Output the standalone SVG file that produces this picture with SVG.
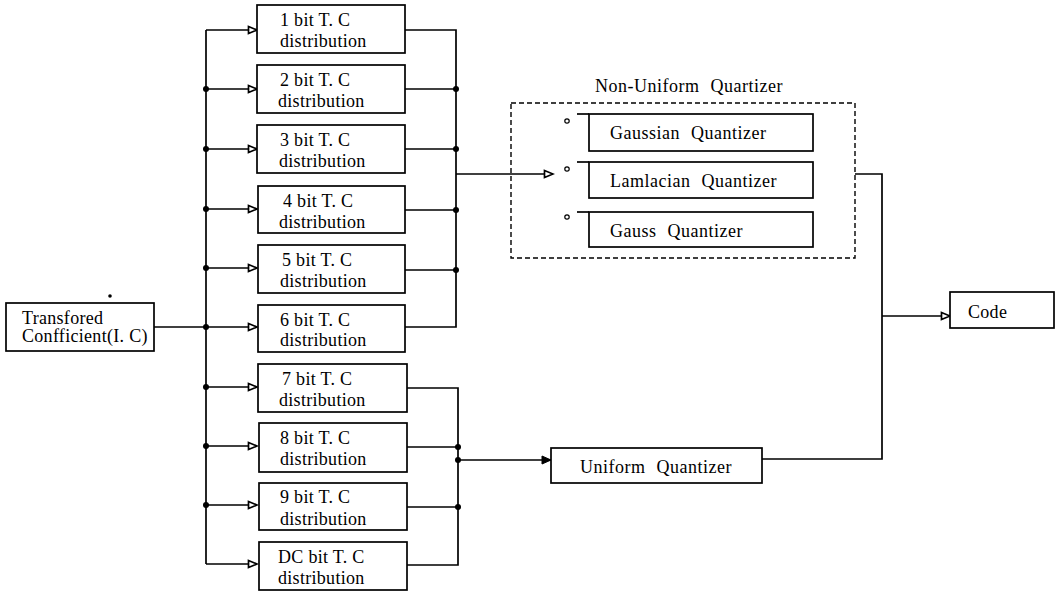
<svg xmlns="http://www.w3.org/2000/svg" width="1057" height="592" viewBox="0 0 1057 592">
<style>
  .box { fill: #fff; stroke: #000; stroke-width: 1.7; }
  .ln { fill: none; stroke: #000; stroke-width: 1.7; }
  .dash { fill: none; stroke: #000; stroke-width: 1.4; stroke-dasharray: 5 3; }
  .t { font-family: "Liberation Serif", "Times New Roman", serif; font-size: 18px; letter-spacing: 0.3px; fill: #000; }
  .q { word-spacing: 6px; letter-spacing: 0.5px; }
  .dot { fill: #000; }
</style>
<defs>
  <marker id="open" markerWidth="12" markerHeight="12" refX="10" refY="5" orient="auto" markerUnits="userSpaceOnUse">
    <path d="M1.5,1.5 L10,5 L1.5,8.5 Z" fill="#fff" stroke="#000" stroke-width="1.7"/>
  </marker>
  <marker id="solid" markerWidth="12" markerHeight="12" refX="10" refY="5" orient="auto" markerUnits="userSpaceOnUse">
    <path d="M1,1 L10,5 L1,9 Z" fill="#000" stroke="#000" stroke-width="1"/>
  </marker>
</defs>

<g id="connectors">
  <!-- input to left bus -->
  <line class="ln" x1="154" y1="327" x2="206" y2="327"/>
  <line class="ln" x1="206" y1="30" x2="206" y2="564"/>
  <line class="ln" x1="206" y1="30" x2="257" y2="30" marker-end="url(#open)"/>
  <line class="ln" x1="206" y1="89" x2="257" y2="89" marker-end="url(#open)"/>
  <line class="ln" x1="206" y1="149" x2="257" y2="149" marker-end="url(#open)"/>
  <line class="ln" x1="206" y1="209" x2="257" y2="209" marker-end="url(#open)"/>
  <line class="ln" x1="206" y1="268" x2="257" y2="268" marker-end="url(#open)"/>
  <line class="ln" x1="206" y1="327" x2="257" y2="327" marker-end="url(#open)"/>
  <line class="ln" x1="206" y1="387" x2="257" y2="387" marker-end="url(#open)"/>
  <line class="ln" x1="206" y1="446" x2="257" y2="446" marker-end="url(#open)"/>
  <line class="ln" x1="206" y1="505" x2="257" y2="505" marker-end="url(#open)"/>
  <line class="ln" x1="206" y1="564" x2="257" y2="564" marker-end="url(#open)"/>
  <circle class="dot" cx="206" cy="89" r="3"/>
  <circle class="dot" cx="206" cy="149" r="3"/>
  <circle class="dot" cx="206" cy="209" r="3"/>
  <circle class="dot" cx="206" cy="268" r="3"/>
  <circle class="dot" cx="206" cy="327" r="3"/>
  <circle class="dot" cx="206" cy="387" r="3"/>
  <circle class="dot" cx="206" cy="446" r="3"/>
  <circle class="dot" cx="206" cy="505" r="3"/>

  <!-- group 1 outputs -->
  <polyline class="ln" points="405,30 456,30 456,327 405,327"/>
  <line class="ln" x1="405" y1="89" x2="456" y2="89"/>
  <line class="ln" x1="405" y1="149" x2="456" y2="149"/>
  <line class="ln" x1="405" y1="210" x2="456" y2="210"/>
  <line class="ln" x1="405" y1="270" x2="456" y2="270"/>
  <circle class="dot" cx="456" cy="89" r="3"/>
  <circle class="dot" cx="456" cy="149" r="3"/>
  <circle class="dot" cx="456" cy="210" r="3"/>
  <circle class="dot" cx="456" cy="270" r="3"/>
  <line class="ln" x1="456" y1="174" x2="553" y2="174" marker-end="url(#open)"/>

  <!-- group 2 outputs -->
  <polyline class="ln" points="407,388 458,388 458,565 407,565"/>
  <line class="ln" x1="407" y1="447" x2="458" y2="447"/>
  <line class="ln" x1="407" y1="507" x2="458" y2="507"/>
  <circle class="dot" cx="458" cy="447" r="3"/>
  <circle class="dot" cx="458" cy="460" r="3"/>
  <circle class="dot" cx="458" cy="507" r="3"/>
  <line class="ln" x1="458" y1="460" x2="551" y2="460" marker-end="url(#solid)"/>

  <!-- merge to code -->
  <polyline class="ln" points="855,174 882,174 882,459 762,459"/>
  <line class="ln" x1="882" y1="316" x2="950" y2="316" marker-end="url(#open)"/>

  <!-- switch contacts -->
  <circle cx="567" cy="121" r="2.2" fill="#fff" stroke="#000" stroke-width="1.2"/>
  <circle cx="567" cy="169" r="2.2" fill="#fff" stroke="#000" stroke-width="1.2"/>
  <circle cx="567" cy="217" r="2.2" fill="#fff" stroke="#000" stroke-width="1.2"/>
  <circle class="dot" cx="110" cy="296" r="1.8"/>
</g>

<g id="input">
  <rect class="box" x="6" y="303" width="148" height="48"/>
  <text class="t" x="22" y="324">Transfored</text>
  <text class="t" x="22" y="342">Confficient(I. C)</text>
</g>

<g id="d1"><rect class="box" x="257" y="5" width="148" height="48"/><text class="t" x="280" y="26">1 bit T. C</text><text class="t" x="280" y="47">distribution</text></g>
<g id="d2"><rect class="box" x="257" y="65" width="148" height="48"/><text class="t" x="280" y="86">2 bit T. C</text><text class="t" x="278" y="107">distribution</text></g>
<g id="d3"><rect class="box" x="257" y="125" width="148" height="48"/><text class="t" x="280" y="146">3 bit T. C</text><text class="t" x="279" y="167">distribution</text></g>
<g id="d4"><rect class="box" x="258" y="186" width="147" height="47"/><text class="t" x="283" y="207">4 bit T. C</text><text class="t" x="279" y="228">distribution</text></g>
<g id="d5"><rect class="box" x="258" y="245" width="147" height="48"/><text class="t" x="282" y="266">5 bit T. C</text><text class="t" x="280" y="287">distribution</text></g>
<g id="d6"><rect class="box" x="258" y="305" width="147" height="47"/><text class="t" x="280" y="326">6 bit T. C</text><text class="t" x="280" y="346">distribution</text></g>
<g id="d7"><rect class="box" x="258" y="364" width="149" height="48"/><text class="t" x="282" y="385">7 bit T. C</text><text class="t" x="279" y="406">distribution</text></g>
<g id="d8"><rect class="box" x="259" y="423" width="148" height="49"/><text class="t" x="280" y="444">8 bit T. C</text><text class="t" x="280" y="465">distribution</text></g>
<g id="d9"><rect class="box" x="259" y="483" width="148" height="47"/><text class="t" x="280" y="503">9 bit T. C</text><text class="t" x="280" y="525">distribution</text></g>
<g id="dDC"><rect class="box" x="259" y="542" width="148" height="48"/><text class="t" x="278" y="563">DC bit T. C</text><text class="t" x="278" y="584">distribution</text></g>

<g id="nonuniform">
  <rect class="dash" x="511" y="103" width="344" height="155"/>
  <text class="t q" x="595" y="92">Non-Uniform Quartizer</text>
</g>
<g id="gaussian">
  <rect class="box" x="589" y="114" width="224" height="37"/>
  <line class="ln" x1="577" y1="114" x2="589" y2="114"/>
  <text class="t q" x="610" y="139">Gaussian Quantizer</text>
</g>
<g id="lamlacian">
  <rect class="box" x="589" y="162" width="224" height="36"/>
  <line class="ln" x1="577" y1="162" x2="589" y2="162"/>
  <text class="t q" x="610" y="187">Lamlacian Quantizer</text>
</g>
<g id="gauss">
  <rect class="box" x="589" y="212" width="224" height="35"/>
  <line class="ln" x1="577" y1="212" x2="589" y2="212"/>
  <text class="t q" x="610" y="237">Gauss Quantizer</text>
</g>
<g id="uniform">
  <rect class="box" x="551" y="448" width="211" height="35"/>
  <text class="t q" x="580" y="473">Uniform Quantizer</text>
</g>
<g id="code">
  <rect class="box" x="950" y="292" width="104" height="36"/>
  <text class="t" x="968" y="318">Code</text>
</g>
</svg>
